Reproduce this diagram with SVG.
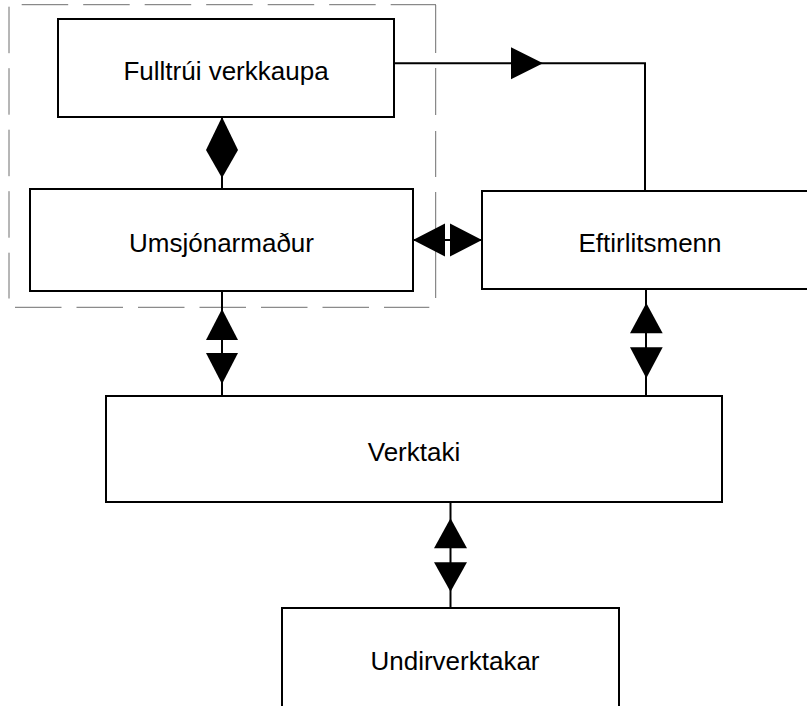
<svg xmlns="http://www.w3.org/2000/svg" width="807" height="706" viewBox="0 0 807 706">
<style>
.box{fill:#fff;stroke:#000;stroke-width:2}
.lbl{font-family:"Liberation Sans",Arial,sans-serif;font-size:26px;fill:#000;text-anchor:middle}
.dash{stroke:#6e6e6e;stroke-width:1;fill:none;stroke-dasharray:46.5 15}
.ln{stroke:#000;stroke-width:2;fill:none}
.head{fill:#000;stroke:none}
</style>
<rect width="807" height="706" fill="#fff"/>
<g id="group-boundary">
<line class="dash" x1="21.7" y1="4.7" x2="436" y2="4.7"/>
<line class="dash" x1="9" y1="6.7" x2="9" y2="298.5"/>
<path class="dash" style="stroke-dasharray:none" d="M435.7,5V53M435.7,68V115M435.7,131V177M435.7,192V298"/>
<line class="dash" x1="15" y1="307.3" x2="429.3" y2="307.3"/>
</g>
<g id="connectors">
<path class="ln" d="M394,63.3H645V191"/>
<polygon class="head" points="511,47.3 543,63.3 511,79.3"/>
<line class="ln" x1="222" y1="117" x2="222" y2="189"/>
<polygon class="head" points="222,117 238,150 222,178 206,150"/>
<line class="ln" x1="413" y1="240" x2="482" y2="240"/>
<polygon class="head" points="413,240 445,223.5 445,256.5"/>
<polygon class="head" points="482,240 450,223.5 450,256.5"/>
<line class="ln" x1="222" y1="291" x2="222" y2="396"/>
<polygon class="head" points="222,309 238,340 206,340"/>
<polygon class="head" points="222,384 238,353 206,353"/>
<line class="ln" x1="646" y1="289" x2="646" y2="396"/>
<polygon class="head" points="646.3,303 662.7,333.3 630,333.3"/>
<polygon class="head" points="646.3,378.3 662.7,347.3 630,347.3"/>
<line class="ln" x1="450.5" y1="502" x2="450.5" y2="608"/>
<polygon class="head" points="450.5,518.3 467,548.3 434,548.3"/>
<polygon class="head" points="450.5,591.7 467,562.3 434,562.3"/>
</g>
<g id="fulltrui">
<rect class="box" x="58" y="19" width="336" height="98"/>
<text class="lbl" x="226" y="80">Fulltrúi verkkaupa</text>
</g>
<g id="umsjonarmadur">
<rect class="box" x="30" y="189" width="383" height="102"/>
<text class="lbl" x="221.5" y="251.5">Umsjónarmaður</text>
</g>
<g id="eftirlitsmenn">
<rect class="box" x="482" y="191" width="336" height="98"/>
<text class="lbl" x="650" y="251.5">Eftirlitsmenn</text>
</g>
<g id="verktaki">
<rect class="box" x="106" y="396" width="616" height="106"/>
<text class="lbl" x="414" y="460.5">Verktaki</text>
</g>
<g id="undirverktakar">
<rect class="box" x="282" y="608" width="337" height="110"/>
<text class="lbl" x="455" y="670">Undirverktakar</text>
</g>
</svg>
